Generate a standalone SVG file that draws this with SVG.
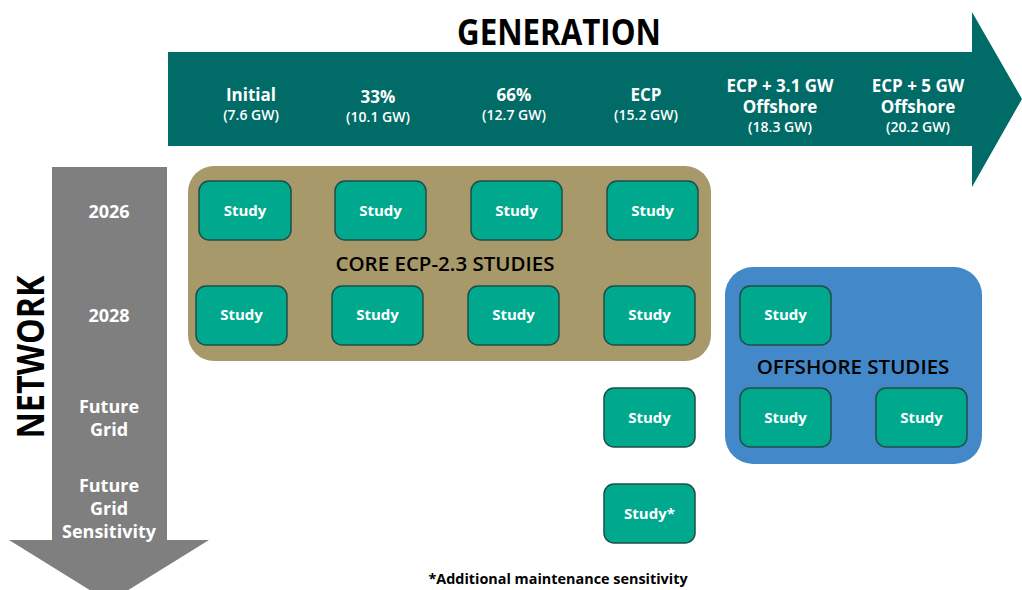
<svg xmlns="http://www.w3.org/2000/svg" width="1022" height="590" viewBox="0 0 1022 590">
<style>
.lbl{font-family:"Open Sans","Liberation Sans",sans-serif;font-weight:700;fill:#fff;text-anchor:middle}
.main{font-size:17px}
.sub{font-size:14px;font-weight:600}
.row{font-size:18px}
.study rect{fill:#00A88E;stroke:#1E4F47;stroke-width:1.5}
.study text{font-family:"Open Sans","Liberation Sans",sans-serif;font-weight:700;font-size:15px;fill:#fff;text-anchor:middle}
.grp{font-family:"Open Sans","Liberation Sans",sans-serif;font-weight:600;font-size:20.5px;fill:#000;text-anchor:middle}
.title{font-family:"Open Sans","Liberation Sans",sans-serif;font-weight:700;fill:#000;text-anchor:middle}
</style>
<rect width="1022" height="590" fill="#fff"/>
<g id="generation-arrow">
<polygon points="168,52 972,52 972,12 1022,99 972,187 972,146 168,146" fill="#006B67"/>
<text class="title" x="559" y="45" font-size="35" textLength="204" lengthAdjust="spacingAndGlyphs">GENERATION</text>
<text class="lbl main" x="251" y="101">Initial</text><text class="lbl sub" x="251" y="120">(7.6 GW)</text>
<text class="lbl main" x="378" y="103">33%</text><text class="lbl sub" x="378" y="122">(10.1 GW)</text>
<text class="lbl main" x="514" y="101">66%</text><text class="lbl sub" x="514" y="120">(12.7 GW)</text>
<text class="lbl main" x="646" y="101">ECP</text><text class="lbl sub" x="646" y="120">(15.2 GW)</text>
<text class="lbl main" x="780" y="92">ECP + 3.1 GW</text><text class="lbl main" x="780" y="113">Offshore</text><text class="lbl sub" x="780" y="132">(18.3 GW)</text>
<text class="lbl main" x="918" y="92">ECP + 5 GW</text><text class="lbl main" x="918" y="113">Offshore</text><text class="lbl sub" x="918" y="132">(20.2 GW)</text>
</g>
<g id="network-arrow">
<polygon points="52,167 167,167 167,540 209,540 109,602 9,540 52,540" fill="#7F7F7F"/>
<text class="title" transform="translate(44,357) rotate(-90)" font-size="38" textLength="163" lengthAdjust="spacingAndGlyphs">NETWORK</text>
<text class="lbl row" x="109" y="218">2026</text>
<text class="lbl row" x="109" y="322">2028</text>
<text class="lbl row" x="109" y="413">Future</text><text class="lbl row" x="109" y="436">Grid</text>
<text class="lbl row" x="109" y="492">Future</text><text class="lbl row" x="109" y="515">Grid</text><text class="lbl row" x="109" y="538">Sensitivity</text>
</g>
<g id="core-group">
<rect x="188" y="166" width="523" height="195" rx="26" fill="#A8996A"/>
<text class="grp" x="445" y="271">CORE ECP-2.3 STUDIES</text>
</g>
<g id="offshore-group">
<rect x="725" y="267" width="257" height="197" rx="28" fill="#4388C8"/>
<text class="grp" x="853" y="374">OFFSHORE STUDIES</text>
</g>
<g id="connectors"></g>
<g id="s1" class="study"><rect x="199" y="181" width="92" height="59" rx="10"/><text x="245" y="216">Study</text></g>
<g id="s2" class="study"><rect x="335" y="181" width="91" height="59" rx="10"/><text x="380.5" y="216">Study</text></g>
<g id="s3" class="study"><rect x="471" y="181" width="91" height="59" rx="10"/><text x="516.5" y="216">Study</text></g>
<g id="s4" class="study"><rect x="607" y="181" width="91" height="59" rx="10"/><text x="652.5" y="216">Study</text></g>
<g id="s5" class="study"><rect x="196" y="286" width="91" height="59" rx="10"/><text x="241.5" y="320">Study</text></g>
<g id="s6" class="study"><rect x="332" y="286" width="91" height="59" rx="10"/><text x="377.5" y="320">Study</text></g>
<g id="s7" class="study"><rect x="468" y="286" width="91" height="59" rx="10"/><text x="513.5" y="320">Study</text></g>
<g id="s8" class="study"><rect x="604" y="286" width="91" height="59" rx="10"/><text x="649.5" y="320">Study</text></g>
<g id="s9" class="study"><rect x="740" y="286" width="91" height="59" rx="10"/><text x="785.5" y="320">Study</text></g>
<g id="s10" class="study"><rect x="604" y="388" width="91" height="59" rx="10"/><text x="649.5" y="423">Study</text></g>
<g id="s11" class="study"><rect x="740" y="388" width="91" height="59" rx="10"/><text x="785.5" y="423">Study</text></g>
<g id="s12" class="study"><rect x="876" y="388" width="91" height="59" rx="10"/><text x="921.5" y="423">Study</text></g>
<g id="s13" class="study"><rect x="604" y="484" width="91" height="59" rx="10"/><text x="649.5" y="519">Study*</text></g>
<text x="558" y="584" font-family="Open Sans, Liberation Sans, sans-serif" font-weight="700" font-size="14.4" text-anchor="middle" fill="#000">*Additional maintenance sensitivity</text>
</svg>
